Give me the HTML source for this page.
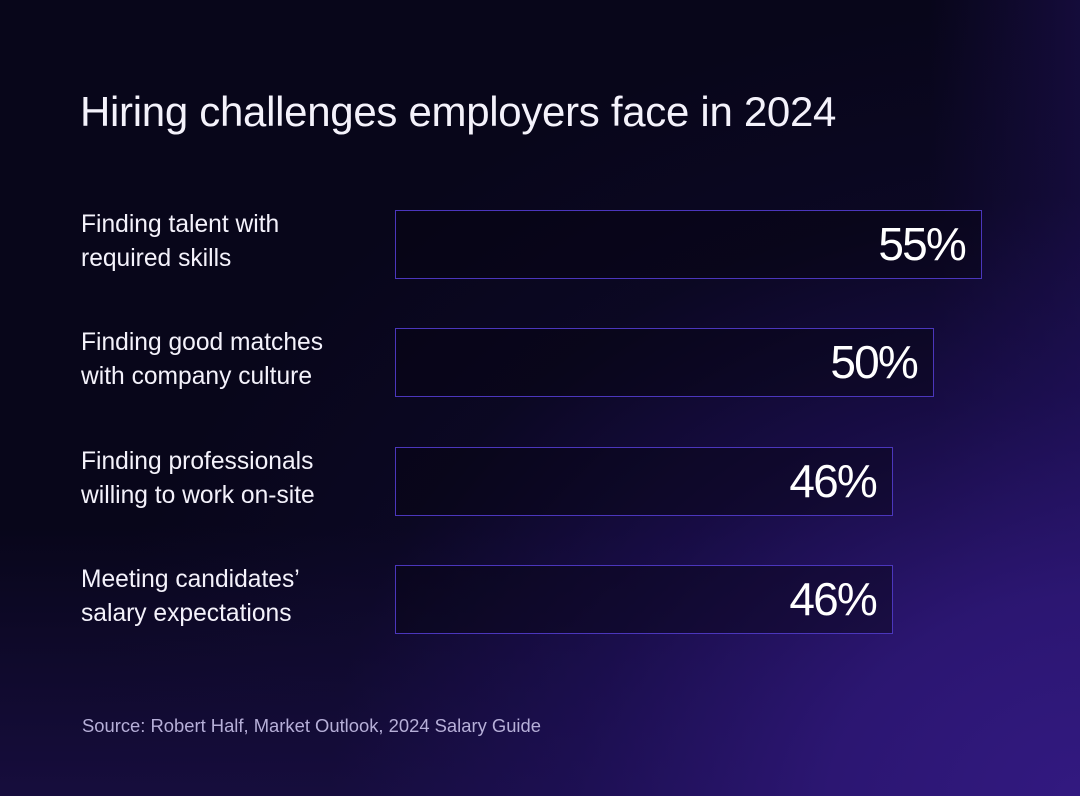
<!DOCTYPE html>
<html>
<head>
<meta charset="utf-8">
<style>
  html, body { margin:0; padding:0; }
  body {
    width:1080px; height:796px; overflow:hidden; position:relative;
    background-color:#08061a;
    background-image:
      radial-gradient(ellipse 1000px 800px at 100% 100%, rgba(50,25,128,1) 0%, rgba(46,23,120,0.9) 25%, rgba(34,17,98,0.6) 50%, rgba(20,12,60,0.25) 75%, rgba(8,6,26,0) 100%),
      linear-gradient(to top, rgba(26,15,70,0.8) 0%, rgba(26,15,70,0) 34%),
      linear-gradient(to left, rgba(26,14,72,0.7) 0%, rgba(26,14,72,0) 14%);
    font-family:"Liberation Sans", Arial, sans-serif;
    color:#f4f2fb;
  }
  .title {
    position:absolute; left:80px; top:91px;
    font-size:42px; line-height:42px; white-space:nowrap; letter-spacing:-0.3px;
  }
  .label {
    position:absolute; left:81px;
    font-size:24.6px; line-height:34px; white-space:nowrap;
  }
  .bar {
    position:absolute; left:395px; height:69px; box-sizing:border-box;
    border:1.5px solid #4b36bc;
    background:rgba(6,4,18,0.45);
  }
  .num {
    position:absolute; right:16px; top:10px;
    font-size:46px; line-height:46px; letter-spacing:-1.8px; white-space:nowrap;
    color:#ffffff;
  }
  .source {
    position:absolute; left:82px; top:717px;
    font-size:18.4px; line-height:18.4px; color:#b6afd8; white-space:nowrap;
  }
</style>
</head>
<body>
  <div class="title">Hiring challenges employers face in 2024</div>

  <div class="label" style="top:208px;">Finding talent with<br>required skills</div>
  <div class="bar" style="top:210px; width:587px;"><div class="num">55%</div></div>

  <div class="label" style="top:326px;">Finding good matches<br>with company culture</div>
  <div class="bar" style="top:328px; width:539px;"><div class="num">50%</div></div>

  <div class="label" style="top:445px;">Finding professionals<br>willing to work on-site</div>
  <div class="bar" style="top:447px; width:498px;"><div class="num">46%</div></div>

  <div class="label" style="top:563px;">Meeting candidates’<br>salary expectations</div>
  <div class="bar" style="top:565px; width:498px;"><div class="num">46%</div></div>

  <div class="source">Source: Robert Half, Market Outlook, 2024 Salary Guide</div>
</body>
</html>
